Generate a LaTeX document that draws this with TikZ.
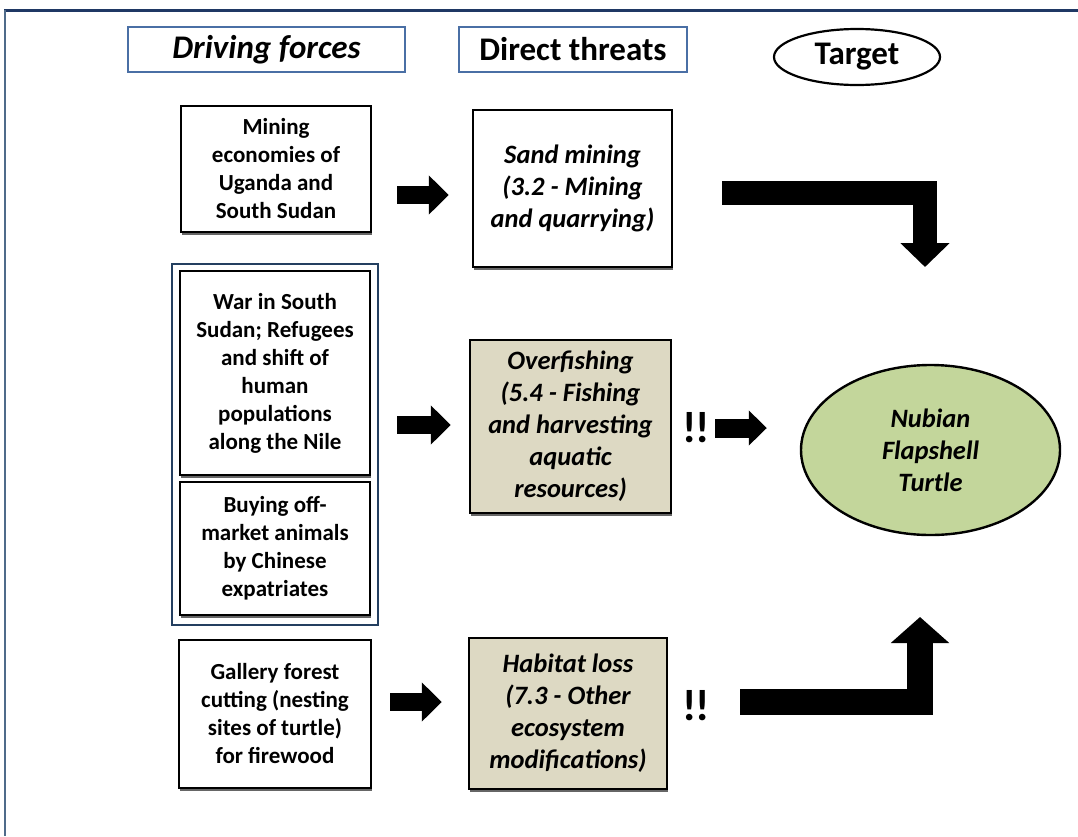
\documentclass[tikz,border=0pt]{standalone}
\usepackage{fontspec}
\setmainfont{Carlito}
\usetikzlibrary{arrows.meta,shapes.geometric,shadows}
\definecolor{framenavy}{HTML}{1F3864}
\definecolor{frameside}{HTML}{4F6B8A}
\definecolor{hdrblue}{HTML}{4A6FA5}
\definecolor{groupnavy}{HTML}{243F60}
\definecolor{tan}{HTML}{DDD9C3}
\definecolor{turtlegreen}{HTML}{C3D69B}
\tikzset{
  hdr/.style={draw=hdrblue, line width=2.2pt, fill=white, inner sep=0pt, minimum height=45pt,
    font=\fontsize{33}{36}\selectfont\bfseries},
  box/.style={draw=black, line width=2.4pt, fill=white, align=center, inner sep=0pt,
    font=\fontsize{23}{28}\selectfont\bfseries,
    drop shadow={shadow xshift=1pt, shadow yshift=-2.5pt, fill=black, opacity=0.6}},
  threat/.style={box, font=\fontsize{26.5}{32}\selectfont\bfseries\itshape},
  fat/.style={line width=18pt, -{Triangle[length=20pt,width=38pt]}},
  bigL/.style={line width=24pt, line join=miter, -{Triangle[length=24pt,width=48pt]}},
  bang/.style={inner sep=0pt, font=\fontsize{44}{44}\selectfont\bfseries}
}
\begin{document}
\begin{tikzpicture}[x=1pt,y=-1pt]
\useasboundingbox (0,0) rectangle (1078,836);
% frame
\draw[framenavy, line width=3pt] (4,10) -- (1078,10);
\draw[frameside, line width=2pt] (5,10) -- (5,836);
% headers
\node[hdr, minimum width=277pt, font=\fontsize{33}{36}\selectfont\bfseries\itshape] (hdrD) at (266.5,49.5) {Driving forces};
\node[hdr, minimum width=228pt] (hdrT) at (573,49.5) {Direct threats};
\node[draw=black, line width=2.2pt, ellipse, inner sep=0pt, minimum width=166pt, minimum height=56pt,
  font=\fontsize{33}{36}\selectfont\bfseries] (hdrG) at (857,57) {Target};
% driving forces
\node[box, minimum width=190pt, minimum height=126pt] (mining) at (276,169)
  {Mining\\economies of\\Uganda and\\South Sudan};
\node[draw=groupnavy, line width=2.6pt, inner sep=0pt, minimum width=206pt, minimum height=361pt] (group) at (275,444.5) {};
\node[box, minimum width=190pt, minimum height=204pt] (war) at (275,373)
  {War in South\\Sudan; Refugees\\and shift of\\human\\populations\\along the Nile};
\node[box, minimum width=190pt, minimum height=133pt] (buy) at (275,548.5)
  {Buying off-\\market animals\\by Chinese\\expatriates};
\node[box, minimum width=192pt, minimum height=148pt] (gal) at (275,714)
  {Gallery forest\\cutting (nesting\\sites of turtle)\\for firewood};
% threats
\node[threat, minimum width=199pt, minimum height=157pt] (sand) at (572.5,188.5)
  {Sand mining\\(3.2 - Mining\\and quarrying)};
\node[threat, fill=tan, minimum width=201pt, minimum height=173pt] (over) at (570.5,426.5)
  {Overfishing\\(5.4 - Fishing\\and harvesting\\aquatic\\resources)};
\node[threat, fill=tan, minimum width=198pt, minimum height=151pt] (hab) at (568,713.5)
  {Habitat loss\\(7.3 - Other\\ecosystem\\modifications)};
% target
\node[draw=black, line width=2.4pt, ellipse, fill=turtlegreen, inner sep=0pt, align=center,
  minimum width=259pt, minimum height=170pt, font=\fontsize{26.5}{32}\selectfont\bfseries\itshape] (turtle) at (930.5,450)
  {Nubian\\Flapshell\\Turtle};
% bangs
\node[bang] (ex1) at (696,428) {!\kern-1pt!};
\node[bang] (ex2) at (696,706) {!\kern-1pt!};
\coordinate (tA) at (925,267);
\coordinate (tB) at (920,617);
% arrows
\draw[fat, shorten <=25pt, shorten >=23pt] (mining.east |- 0,195) -- (sand.west |- 0,195);
\draw[fat, shorten <=18pt, shorten >=18pt] (group.east |- 0,425) -- (over.west |- 0,425);
\draw[fat, shorten <=18pt, shorten >=26pt] (gal.east |- 0,702) -- (hab.west |- 0,702);
\draw[fat, line width=19pt, -{Triangle[length=18pt,width=34pt]}, shorten <=5pt, shorten >=33pt] (ex1.east |- 0,428) -- (turtle.west |- 0,428);
\draw[bigL, shorten <=49pt] ([yshift=-4pt]sand.east) -| (tA);
\draw[bigL, line width=26pt, -{Triangle[length=26pt,width=57pt]}, shorten <=72pt] ([yshift=11.5pt]hab.east) -| (tB);
\end{tikzpicture}
\end{document}
